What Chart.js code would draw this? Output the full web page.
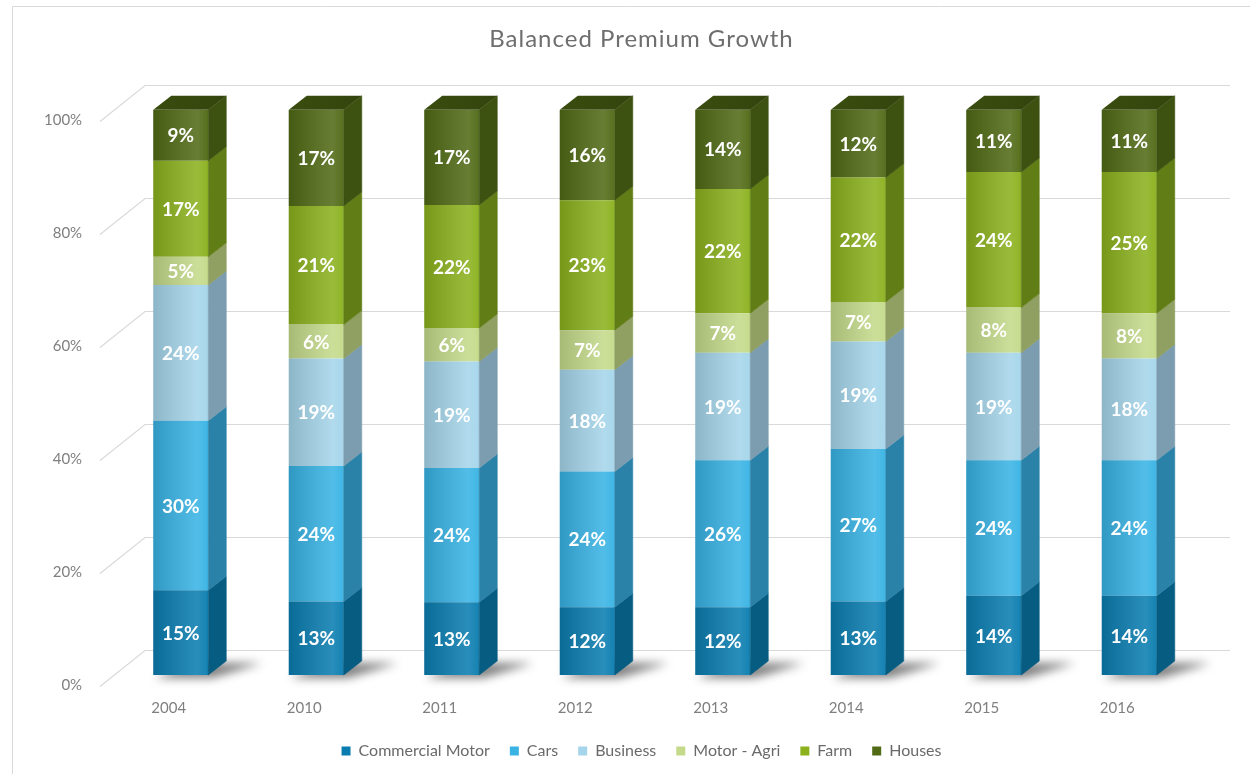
<!DOCTYPE html>
<html><head><meta charset="utf-8">
<script src="https://cdn.jsdelivr.net/npm/chart.js@4.4.1/dist/chart.umd.min.js"></script>
<style>html,body{margin:0;padding:0;background:#fff;} canvas{display:block;}</style>
</head><body>
<canvas id="c" width="1250" height="774"></canvas>
<script>
// ---- data ----
const years = ['2004','2010','2011','2012','2013','2014','2015','2016'];
const commercialMotor = [15,13,13,12,12,13,14,14];
const cars            = [30,24,24,24,26,27,24,24];
const business        = [24,19,19,18,19,19,19,18];
const motorAgri       = [5,6,6,7,7,7,8,8];
const farm            = [17,21,22,23,22,22,24,25];
const houses          = [9,17,17,16,14,12,11,11];
const seriesNames = ['Commercial Motor','Cars','Business','Motor - Agri','Farm','Houses'];
const seriesValues = [commercialMotor, cars, business, motorAgri, farm, houses];

// ---- styles ----
const faceColors = ['#0a7db0','#38b3e4','#a5d5ea','#c4da8a','#8bb11d','#506a15'];
const sideColors = ['#075c82','#2a82a8','#7c9db0','#909f62','#617d16','#3d5210'];
const topColors  = ['#06567a','#2679a0','#7595a8','#8a9a5c','#5a7414','#3a4d0f'];
const DX = 18, DY = -14;

// 100% stacked: share of each category total
const totals = years.map((_, i) => seriesValues.reduce((s, arr) => s + arr[i], 0));
const shares = seriesValues.map(arr => arr.map((v, i) => v / totals[i] * 100));

const scene = {
  id: 'scene',
  beforeDraw(chart) {
    const {ctx} = chart;
    ctx.save();
    ctx.strokeStyle = '#d9d9d9'; ctx.lineWidth = 1;
    ctx.beginPath(); ctx.moveTo(12.5, 774); ctx.lineTo(12.5, 6.5); ctx.lineTo(1250, 6.5); ctx.stroke();
    ctx.restore();
  },
  beforeDatasetsDraw(chart) {
    const {ctx, chartArea: ca, scales: {y}} = chart;
    ctx.save();
    ctx.strokeStyle = '#d9d9d9'; ctx.lineWidth = 1.2;
    y.ticks.forEach(t => {
      const yf = Math.round(y.getPixelForValue(t.value)) + 0.5;
      ctx.beginPath();
      ctx.moveTo(ca.left - 13, yf + 11);
      ctx.lineTo(ca.left + 32, yf - 25);
      ctx.lineTo(ca.right + 33, yf - 25);
      ctx.stroke();
    });
    const base = y.getPixelForValue(0);
    ctx.filter = 'blur(5px)';
    ctx.fillStyle = 'rgba(0,0,0,0.5)';
    chart.getDatasetMeta(0).data.forEach(el => {
      const xl = el.x - el.width / 2, xr = el.x + el.width / 2;
      ctx.beginPath();
      ctx.moveTo(xl + 2, base + 3);
      ctx.lineTo(xr + 4, base + 3);
      ctx.lineTo(xr + DX + 36, base + DY + 2);
      ctx.lineTo(xl + DX + 16, base + DY + 2);
      ctx.closePath(); ctx.fill();
    });
    ctx.restore();
  },
  afterDatasetsDraw(chart) {
    const {ctx} = chart;
    const n = chart.data.datasets.length;
    ctx.save();
    years.forEach((_, i) => {
      let top = null, topD = 0;
      for (let d = 0; d < n; d++) {
        const el = chart.getDatasetMeta(d).data[i];
        const xl = el.x - el.width / 2, xr = el.x + el.width / 2;
        const yt = el.y, yb = el.base;
        const g = ctx.createLinearGradient(xl, 0, xr, 0);
        g.addColorStop(0, 'rgba(0,0,0,0.15)');
        g.addColorStop(0.8, 'rgba(255,255,255,0.13)');
        g.addColorStop(1, 'rgba(255,255,255,0.04)');
        ctx.fillStyle = g;
        ctx.fillRect(xl, yt, xr - xl, yb - yt);
        ctx.fillStyle = sideColors[d];
        ctx.strokeStyle = sideColors[d];
        ctx.lineWidth = 0.6;
        ctx.beginPath();
        ctx.moveTo(xr, yb); ctx.lineTo(xr, yt);
        ctx.lineTo(xr + DX, yt + DY); ctx.lineTo(xr + DX, yb + DY);
        ctx.closePath(); ctx.fill(); ctx.stroke();
        top = el; topD = d;
      }
      const xl = top.x - top.width / 2, xr = top.x + top.width / 2, yt = top.y;
      const tg = ctx.createLinearGradient(xl, 0, xr + DX, 0);
      tg.addColorStop(0, topColors[topD]);
      tg.addColorStop(1, '#33450c');
      ctx.fillStyle = tg;
      ctx.beginPath();
      ctx.moveTo(xl, yt); ctx.lineTo(xr, yt);
      ctx.lineTo(xr + DX, yt + DY); ctx.lineTo(xl + DX, yt + DY);
      ctx.closePath(); ctx.fill();
    });
    // data labels
    ctx.fillStyle = '#ffffff';
    ctx.font = 'bold 19px Lato';
    ctx.textAlign = 'center';
    ctx.textBaseline = 'middle';
    for (let d = 0; d < n; d++) {
      chart.getDatasetMeta(d).data.forEach((el, i) => {
        ctx.fillText(seriesValues[d][i] + '%', el.x, (el.y + el.base) / 2 + 1);
      });
    }
    ctx.restore();
  }
};

const chart = new Chart(document.getElementById('c'), {
  type: 'bar',
  data: {
    labels: years,
    datasets: seriesNames.map((name, d) => ({
      label: name,
      data: shares[d],
      backgroundColor: faceColors[d],
      borderWidth: 0,
      categoryPercentage: 1,
      barPercentage: 0.406
    }))
  },
  options: {
    responsive: false,
    animation: false,
    layout: {padding: {left: 86, right: 53, top: 0, bottom: 5}},
    plugins: {
      title: {display: true, text: 'Balanced Premium Growth', color: '#6e6e6e',
              font: {family: 'Lato', size: 24, weight: 'normal'}, padding: {top: 25, bottom: 56}},
      legend: {position: 'bottom',
               labels: {boxWidth: 9, boxHeight: 9, padding: 20, color: '#6a6a6a',
                        font: {family: 'Lato', size: 16}}},
      tooltip: {enabled: false}
    },
    scales: {
      x: {stacked: true, grid: {display: false, drawTicks: false}, border: {display: false},
          ticks: {color: '#7f7f7f', font: {family: 'Lato', size: 15}, padding: 24, labelOffset: -12},
          afterFit(s) { s.height = 48; }},
      y: {stacked: true, min: 0, max: 100, grid: {display: false, drawTicks: false}, border: {display: false},
          ticks: {stepSize: 20, color: '#7f7f7f', font: {family: 'Lato', size: 15},
                  mirror: true, crossAlign: 'far', padding: -69, labelOffset: 10,
                  callback: v => v + '%'},
          afterFit(s) { s.width = 27; }}
    }
  },
  plugins: [scene]
});

// widen the title's letter spacing like the original
if (chart.titleBlock) {
  const tb = chart.titleBlock;
  const origDraw = tb.draw.bind(tb);
  tb.draw = function () {
    const c = this.ctx;
    c.save();
    c.letterSpacing = '1px';
    origDraw();
    c.restore();
  };
  chart.draw();
}
</script>
</body></html>
